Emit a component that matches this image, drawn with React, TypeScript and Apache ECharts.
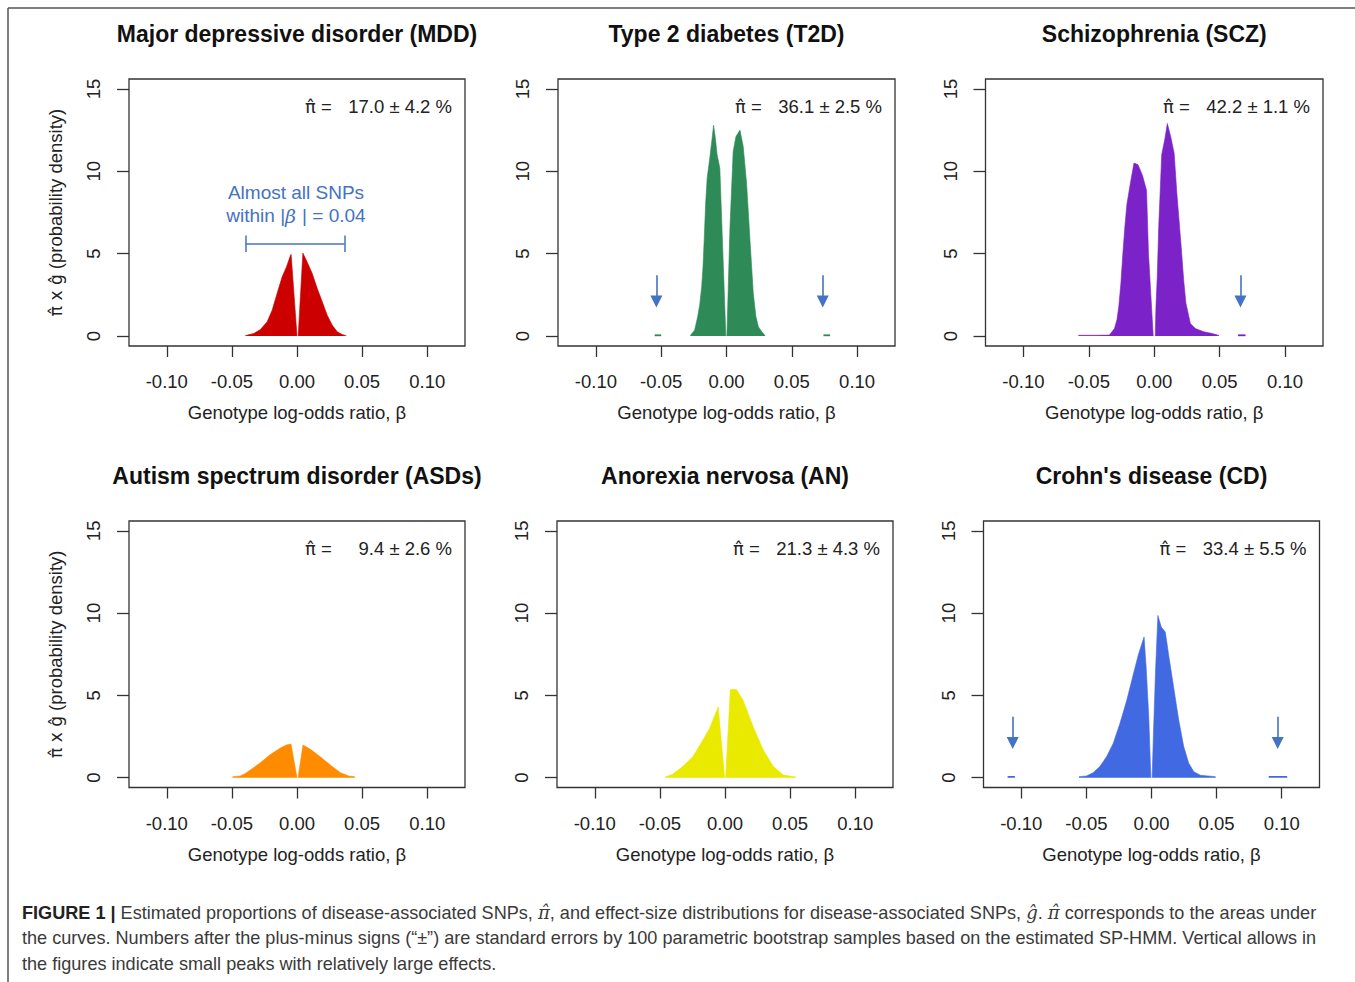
import React, { useEffect, useRef } from "react";
import * as echarts from "echarts";

// ---------- data ----------
const xTicks = [-0.1, -0.05, 0, 0.05, 0.1];
const yTicks = [0, 5, 10, 15];

const panelTitles = [
  "Major depressive disorder (MDD)",
  "Type 2 diabetes (T2D)",
  "Schizophrenia (SCZ)",
  "Autism spectrum disorder (ASDs)",
  "Anorexia nervosa (AN)",
  "Crohn's disease (CD)",
];
const piEstimates = ["17.0 ± 4.2 %", "36.1 ± 2.5 %", "42.2 ± 1.1 %", "9.4 ± 2.6 %", "21.3 ± 4.3 %", "33.4 ± 5.5 %"];
const panelColors = ["#CD0000", "#2E8B57", "#7B22C8", "#FF8C00", "#EAEA00", "#4169E1"];

// density pieces [beta, pi x g]
const mddLeft = [[-0.0396, 0.03], [-0.0332, 0.16], [-0.0281, 0.4], [-0.0229, 0.87], [-0.0191, 1.57], [-0.0153, 2.58], [-0.0114, 3.6], [-0.0081, 4.2], [-0.005, 4.9], [-0.0045, 4.96], [0, 0]];
const mddRight = [[0.0009, 0], [0.0045, 5.04], [0.0078, 4.5], [0.0117, 3.8], [0.0155, 2.9], [0.0194, 2.08], [0.0232, 1.27], [0.027, 0.67], [0.0309, 0.26], [0.0347, 0.1], [0.0378, 0.02]];

const t2dLeft = [[-0.0277, 0.04], [-0.0244, 0.36], [-0.022, 1.2], [-0.0205, 1.9], [-0.019, 3.0], [-0.018, 4.2], [-0.017, 6.0], [-0.016, 8.0], [-0.0148, 9.6], [-0.0128, 10.8], [-0.011, 12.0], [-0.0099, 12.8], [-0.0085, 12.0], [-0.0072, 11.0], [-0.0051, 10.2], [-0.0005, 0]];
const t2dRight = [[0.0003, 0], [0.0026, 6.5], [0.0051, 11.2], [0.0072, 12.1], [0.0103, 12.5], [0.0128, 11.5], [0.0154, 9.25], [0.018, 5.8], [0.0205, 2.6], [0.0225, 1.2], [0.0244, 0.57], [0.027, 0.26], [0.0295, 0.04]];
const t2dTails = [[[-0.055, 0.05], [-0.05, 0.05]], [[0.0742, 0.05], [0.0793, 0.05]]];
const t2dArrows = [-0.0537, 0.0737];

const sczLeft = [[-0.058, 0.05], [-0.045, 0.05], [-0.0343, 0.06], [-0.0304, 0.46], [-0.0285, 1.0], [-0.0271, 1.8], [-0.0255, 3.2], [-0.024, 5.0], [-0.0225, 6.6], [-0.0209, 8.0], [-0.0183, 9.25], [-0.0155, 10.5], [-0.0124, 10.4], [-0.009, 9.75], [-0.0059, 8.85], [-0.0044, 5.0], [-0.0008, 0]];
const sczRight = [[0.0008, 0], [0.0013, 1.8], [0.0023, 3.6], [0.0034, 6.6], [0.0057, 11.0], [0.0082, 12.0], [0.01, 12.9], [0.0126, 12.1], [0.0152, 11.1], [0.0173, 8.65], [0.0204, 5.6], [0.0225, 3.4], [0.0242, 2.0], [0.0276, 0.77], [0.0314, 0.46], [0.0379, 0.26], [0.0443, 0.16], [0.0495, 0.04]];
const sczTails = [[[0.064, 0.05], [0.0698, 0.05]]];
const sczArrows = [0.0659];

const asdLeft = [[-0.0495, 0.06], [-0.0436, 0.1], [-0.0397, 0.25], [-0.0359, 0.46], [-0.0282, 0.9], [-0.0205, 1.4], [-0.0128, 1.8], [-0.0082, 1.98], [-0.0046, 2.04], [0, 0]];
const asdRight = [[0.0008, 0], [0.0046, 1.98], [0.0103, 1.72], [0.0179, 1.27], [0.0256, 0.77], [0.0333, 0.3], [0.0397, 0.1], [0.0444, 0.06]];

const anLeft = [[-0.0459, 0.04], [-0.0402, 0.2], [-0.0325, 0.67], [-0.0247, 1.27], [-0.017, 2.28], [-0.0119, 2.99], [-0.0052, 4.3], [-0.0003, 0]];
const anRight = [[0.0005, 0], [0.0041, 5.35], [0.0088, 5.35], [0.0139, 4.7], [0.0216, 3.1], [0.0294, 1.68], [0.0371, 0.67], [0.0448, 0.16], [0.0544, 0.04]];

const cdLeft = [[-0.0557, 0.06], [-0.05, 0.1], [-0.0448, 0.3], [-0.0397, 0.67], [-0.0345, 1.27], [-0.0294, 2.08], [-0.0242, 3.3], [-0.019, 4.7], [-0.0139, 6.3], [-0.01, 7.5], [-0.0057, 8.55], [-0.0041, 6.7], [-0.0021, 3.7], [-0.0005, 0]];
const cdRight = [[0.0005, 0], [0.0015, 2.7], [0.0031, 6.5], [0.0049, 9.86], [0.0075, 9.15], [0.0106, 8.85], [0.0131, 7.5], [0.017, 5.5], [0.0209, 3.5], [0.0247, 1.9], [0.0286, 0.87], [0.0325, 0.36], [0.0376, 0.14], [0.0492, 0.06]];
const cdTails = [[[-0.1105, 0.05], [-0.1049, 0.05]], [[0.09, 0.05], [0.1042, 0.05]]];
const cdArrows = [-0.1066, 0.0969];

const leftPieces = [mddLeft, t2dLeft, sczLeft, asdLeft, anLeft, cdLeft];
const rightPieces = [mddRight, t2dRight, sczRight, asdRight, anRight, cdRight];
const tailPieces = [[], t2dTails, sczTails, [], [], cdTails];
const arrowBetas = [[], t2dArrows, sczArrows, [], [], cdArrows];

const bracketBetas = [-0.0395, 0.0365];
const bracketY = 5.6;

const xTitle = "Genotype log-odds ratio, β";
const yTitle = "{h|π̂ x ĝ} (probability density)";

// ---------- layout / style ----------
const FONT = "'Liberation Sans', Arial, Helvetica, sans-serif";
const MATHFONT = "'DejaVu Sans', 'Liberation Sans', sans-serif";
const BLUE = "#4472C4";
const INK = "#222";
const boxes = [
  [129, 79, 336, 267],
  [558, 79, 337, 267],
  [985.5, 79, 337.5, 267],
  [129, 521, 336, 266.5],
  [557, 521, 336, 266.5],
  [983.5, 521, 336, 266.5],
];

function buildOption() {
  const grid: any[] = [];
  const xAxis: any[] = [];
  const yAxis: any[] = [];
  const series: any[] = [];
  const graphic: any[] = [];

  // outer frame
  graphic.push({ type: "line", shape: { x1: 8, y1: 8, x2: 1355, y2: 8 }, style: { stroke: "#555", lineWidth: 1.5 } });
  graphic.push({ type: "line", shape: { x1: 8, y1: 8, x2: 8, y2: 982 }, style: { stroke: "#555", lineWidth: 1.5 } });

  boxes.forEach((b, i) => {
    const [left, top, width, height] = b;
    const color = panelColors[i];
    grid.push({ left, top, width, height, show: true, borderColor: "#333", borderWidth: 1.3, backgroundColor: "transparent", containLabel: false });
    xAxis.push({
      gridIndex: i,
      type: "value",
      position: "bottom",
      min: -0.129,
      max: 0.129,
      splitLine: { show: false },
      axisLine: { show: false, onZero: false },
      axisTick: { show: true, inside: false, length: 11, customValues: xTicks, lineStyle: { color: "#333", width: 1.3 } },
      axisLabel: { customValues: xTicks, formatter: (v: number) => v.toFixed(2), margin: 26, fontSize: 18.5, color: INK, fontFamily: FONT },
      name: xTitle,
      nameLocation: "middle",
      nameGap: 57,
      nameTextStyle: { fontSize: 18.5, color: INK, fontFamily: FONT },
    });
    yAxis.push({
      gridIndex: i,
      type: "value",
      position: "left",
      min: -0.6,
      max: 15.6,
      splitLine: { show: false },
      axisLine: { show: false, onZero: false },
      axisTick: { show: true, inside: false, length: 12, customValues: yTicks, lineStyle: { color: "#333", width: 1.3 } },
      axisLabel: { customValues: yTicks, rotate: 90, margin: 26, fontSize: 18.5, color: INK, fontFamily: FONT, formatter: (v: number) => String(v) },
      name: i % 3 === 0 ? yTitle : "",
      nameLocation: "middle",
      nameRotate: 90,
      nameGap: 64,
      nameTextStyle: {
        fontSize: 18.5,
        color: INK,
        fontFamily: FONT,
        rich: { h: { fontSize: 17, fontFamily: MATHFONT, color: INK } },
      },
    });

    const pieceBase = {
      type: "line",
      xAxisIndex: i,
      yAxisIndex: i,
      symbol: "none",
      silent: true,
      lineStyle: { width: 0.6, color },
      itemStyle: { color },
      areaStyle: { color, opacity: 1 },
      emphasis: { disabled: true },
    };
    const leftSeries: any = { ...pieceBase, name: panelTitles[i] + " left", data: leftPieces[i] };
    if (i === 0) {
      const [b0, b1] = bracketBetas;
      leftSeries.markLine = {
        silent: true,
        symbol: "none",
        label: { show: false },
        emphasis: { disabled: true },
        lineStyle: { color: BLUE, width: 1.5, type: "solid" },
        data: [
          [{ coord: [b0, bracketY] }, { coord: [b1, bracketY] }],
          [{ coord: [b0, bracketY - 0.5] }, { coord: [b0, bracketY + 0.5] }],
          [{ coord: [b1, bracketY - 0.5] }, { coord: [b1, bracketY + 0.5] }],
        ],
      };
    }
    series.push(leftSeries);
    series.push({ ...pieceBase, name: panelTitles[i] + " right", data: rightPieces[i] });

    tailPieces[i].forEach((tail: any, k: number) => {
      const s: any = {
        type: "line",
        xAxisIndex: i,
        yAxisIndex: i,
        symbol: "none",
        silent: true,
        data: tail,
        lineStyle: { width: 1.8, color },
        emphasis: { disabled: true },
      };
      if (k === 0 && arrowBetas[i].length) {
        s.markLine = {
          silent: true,
          symbol: ["none", "triangle"],
          symbolSize: 12,
          label: { show: false },
          emphasis: { disabled: true },
          lineStyle: { color: BLUE, width: 1.6, type: "solid" },
          data: arrowBetas[i].map((bx: number) => [{ coord: [bx, 3.7] }, { coord: [bx, 2.1] }]),
        };
      }
      series.push(s);
    });

    // panel title
    const cx = left + width / 2;
    graphic.push({
      type: "text",
      x: cx,
      y: top - 45.5,
      style: { text: panelTitles[i], fill: "#111", font: `bold 23px ${FONT}`, align: "center", verticalAlign: "middle", textAlign: "center", textVerticalAlign: "middle" },
    });
    // pi-hat estimate
    const right = left + width;
    graphic.push({
      type: "text",
      x: right - 160,
      y: top + 27.5,
      style: {
        text: "{h|π̂} =",
        fill: INK,
        font: `18.5px ${FONT}`,
        align: "left",
        verticalAlign: "middle",
        textAlign: "left",
        textVerticalAlign: "middle",
        rich: { h: { fontSize: 18, fontFamily: MATHFONT, fill: INK } },
      },
    });
    graphic.push({
      type: "text",
      x: right - 13,
      y: top + 27.5,
      style: { text: piEstimates[i], fill: INK, font: `18.5px ${FONT}`, align: "right", verticalAlign: "middle", textAlign: "right", textVerticalAlign: "middle" },
    });
  });

  // MDD annotation
  graphic.push({
    type: "text",
    x: 296,
    y: 192,
    style: { text: "Almost all SNPs", fill: BLUE, font: `19px ${FONT}`, align: "center", verticalAlign: "middle", textAlign: "center", textVerticalAlign: "middle" },
  });
  graphic.push({
    type: "text",
    x: 296,
    y: 215.5,
    style: {
      text: "within |{i|β }| = 0.04",
      fill: BLUE,
      font: `19px ${FONT}`,
      align: "center",
      verticalAlign: "middle",
      textAlign: "center",
      textVerticalAlign: "middle",
      rich: { i: { fontStyle: "italic", fontSize: 19, fontFamily: "'DejaVu Serif', serif", fill: BLUE } },
    },
  });

  // caption
  const capFont = 18.1;
  const capColor = "#3a3a3a";
  const rich = {
    b: { fontWeight: "bold", fontSize: capFont, fontFamily: FONT, fill: "#222" },
    i: { fontStyle: "italic", fontSize: capFont, fontFamily: "'DejaVu Serif', serif", fill: capColor },
    n: { fontSize: capFont, fontFamily: FONT, fill: capColor },
  };
  const capLines = [
    "{b|FIGURE 1 |}{n| Estimated proportions of disease-associated SNPs, }{i|π̂}{n|, and effect-size distributions for disease-associated SNPs, }{i|ĝ}{n|. }{i|π̂}{n| corresponds to the areas under}",
    "{n|the curves. Numbers after the plus-minus signs (“±”) are standard errors by 100 parametric bootstrap samples based on the estimated SP-HMM. Vertical allows in}",
    "{n|the figures indicate small peaks with relatively large effects.}",
  ];
  const capY = [912.5, 938, 963.5];
  capLines.forEach((t, k) => {
    graphic.push({
      type: "text",
      x: 22,
      y: capY[k],
      style: { text: t, rich, fill: capColor, font: `${capFont}px ${FONT}`, align: "left", verticalAlign: "middle", textAlign: "left", textVerticalAlign: "middle" },
    });
  });

  return {
    animation: false,
    backgroundColor: "#ffffff",
    grid,
    xAxis,
    yAxis,
    series,
    graphic,
  };
}

export default function App() {
  const ref = useRef<HTMLDivElement>(null);
  useEffect(() => {
    document.body.style.margin = "0";
    const chart = echarts.init(ref.current as HTMLDivElement, null, { renderer: "svg" });
    chart.setOption(buildOption() as any);
    return () => {
      chart.dispose();
    };
  }, []);
  return <div ref={ref} style={{ position: "absolute", left: 0, top: 0, width: 1355, height: 982, background: "#fff" }} />;
}
